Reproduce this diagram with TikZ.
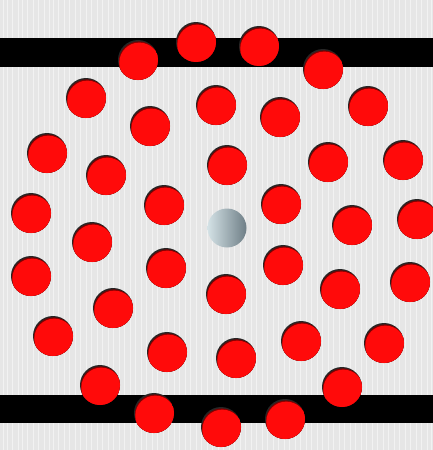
\documentclass[tikz,border=0pt]{standalone}
\usetikzlibrary{shadings}
\definecolor{bg}{HTML}{E6E6E6}
\definecolor{streak}{HTML}{F2F2F2}
\definecolor{holered}{HTML}{FF0A0A}
\definecolor{silverL}{HTML}{D4E2E6}
\definecolor{silverD}{HTML}{6E7E86}
\tikzset{
  hole/.style={circle, minimum size=40pt, inner sep=0pt, fill=black!85,
    path picture={
      \fill[black!50!red] ([xshift=0.8pt,yshift=-1.4pt]path picture bounding box.center) circle (20pt);
      \fill[holered] ([xshift=1.3pt,yshift=-2.6pt]path picture bounding box.center) circle (20pt);
    }},
  ball/.style={circle, minimum size=39pt, inner sep=0pt, left color=silverL, right color=silverD, shading angle=90},
  bar/.style={fill=black}
}
\begin{document}
\begin{tikzpicture}[x=1pt,y=-1pt]
\useasboundingbox (0,0) rectangle (433,450);
\fill[bg] (0,0) rectangle (433,450);
% vertical texture
\foreach \x in {3,7,12,18,22,27,33,38,44,49,53,58,64,69,75,80,86,91,97,102,108,113,119,124,130,135,141,146,152,157,163,168,174,179,185,190,196,201,207,212,218,223,229,234,240,245,251,256,262,267,273,278,284,289,295,300,306,311,317,322,328,333,339,344,350,355,361,366,372,377,383,388,394,399,405,410,416,421,427,431}
  \draw[streak, line width=0.8pt] (\x,0) -- (\x,450);
% bars
\fill[bar] (0,38) rectangle (433,67);
\fill[bar] (0,395) rectangle (433,423);
% red holes
\node[hole] (h1) at (138,60) {};
\node[hole] (h2) at (196,42) {};
\node[hole] (h3) at (259,46) {};
\node[hole] (h4) at (323,69) {};
\node[hole] (h5) at (86,98) {};
\node[hole] (h6) at (150,126) {};
\node[hole] (h7) at (216,105) {};
\node[hole] (h8) at (280,117) {};
\node[hole] (h9) at (368,106) {};
\node[hole] (h10) at (47,153) {};
\node[hole] (h11) at (227,165) {};
\node[hole] (h12) at (328,162) {};
\node[hole] (h13) at (403,160) {};
\node[hole] (h14) at (106,175) {};
\node[hole] (h15) at (31,213) {};
\node[hole] (h16) at (164,205) {};
\node[hole] (h17) at (281,204) {};
\node[hole] (h18) at (352,225) {};
\node[hole] (h19) at (417,219) {};
\node[hole] (h20) at (92,242) {};
\node[hole] (h21) at (31,276) {};
\node[hole] (h22) at (166,268) {};
\node[hole] (h23) at (283,265) {};
\node[hole] (h24) at (340,289) {};
\node[hole] (h25) at (410,282) {};
\node[hole] (h26) at (113,308) {};
\node[hole] (h27) at (226,294) {};
\node[hole] (h28) at (53,336) {};
\node[hole] (h29) at (167,352) {};
\node[hole] (h30) at (236,358) {};
\node[hole] (h31) at (301,341) {};
\node[hole] (h32) at (384,343) {};
\node[hole] (h33) at (100,385) {};
\node[hole] (h34) at (342,387) {};
\node[hole] (h35) at (154,413) {};
\node[hole] (h36) at (221,427) {};
\node[hole] (h37) at (285,419) {};
% silver ball
\node[ball] (s) at (227,228) {};
\end{tikzpicture}
\end{document}
